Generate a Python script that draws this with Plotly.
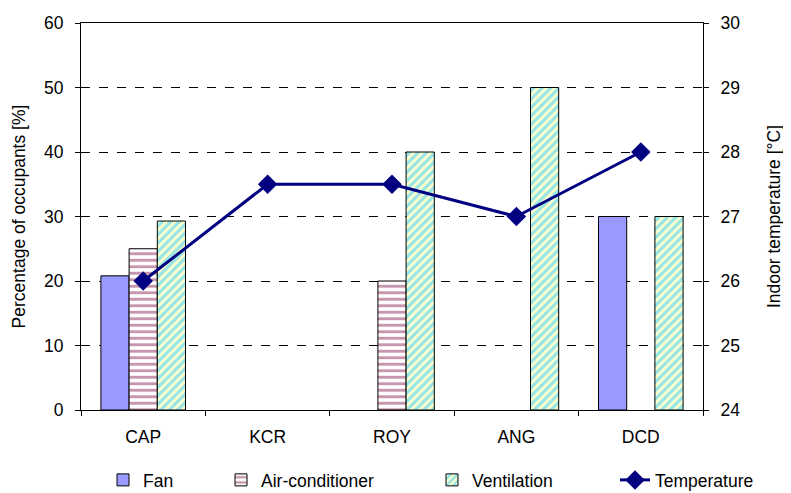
import plotly.graph_objects as go

categories = ["CAP", "KCR", "ROY", "ANG", "DCD"]
fan = [20.8, None, None, None, 30]
air_conditioner = [25, None, 20, None, None]
ventilation = [29.3, None, 40, 50, 30]
temperature = [26, 27.5, 27.5, 27, 28]

font_family = "Liberation Sans, Arial, sans-serif"
FS = 17.5
W, H = 783, 485  # page body has 8px margin

fig = go.Figure()
fig.add_trace(go.Bar(
    x=categories, y=fan, name="Fan", legend="legend",
    marker=dict(color="#9999FF", line=dict(color="black", width=1)),
))
fig.add_trace(go.Bar(
    x=categories, y=air_conditioner, name="Air-conditioner", legend="legend2",
    marker=dict(color="white", line=dict(color="black", width=1),
                pattern=dict(shape="-", fgcolor="#8B2E5C", bgcolor="white",
                             size=6.5, solidity=0.45, fillmode="overlay")),
))
fig.add_trace(go.Bar(
    x=categories, y=ventilation, name="Ventilation", legend="legend3",
    marker=dict(color="#FFFFCC", line=dict(color="black", width=1),
                pattern=dict(shape="/", fgcolor="#33CCFF", bgcolor="#FFFFCC",
                             size=6, solidity=0.55, fillmode="overlay")),
))
fig.add_trace(go.Scatter(
    x=categories, y=temperature, name="Temperature", yaxis="y2", legend="legend4",
    mode="lines+markers",
    line=dict(color="#000080", width=3),
    marker=dict(symbol="diamond", size=15, color="#000080"),
))

def leg(px):
    return dict(orientation="h", xref="container", yref="container",
                x=px / W, xanchor="left", y=1 - 472 / H, yanchor="middle",
                font=dict(size=FS), bgcolor="rgba(0,0,0,0)", borderwidth=0)

fig.update_layout(
    width=W, height=H,
    margin=dict(l=73, r=88, t=15, b=83, autoexpand=False),
    paper_bgcolor="white", plot_bgcolor="white",
    font=dict(family=font_family, size=FS, color="black"),
    barmode="group", bargap=0.32, bargroupgap=0,
    showlegend=True,
    legend=leg(95), legend2=leg(213), legend3=leg(424), legend4=leg(607),
    xaxis=dict(
        type="category", showline=True, linecolor="black", linewidth=1, mirror=True,
        ticks="outside", ticklen=5, tickcolor="black", tickson="boundaries",
        showgrid=False, tickfont=dict(size=FS), automargin=False, ticklabelstandoff=11,
    ),
    yaxis=dict(
        range=[0, 60], dtick=10, showline=True, linecolor="black", linewidth=1,
        ticks="outside", ticklen=5, tickcolor="black",
        showgrid=True, gridcolor="black", gridwidth=1, griddash="dash",
        zeroline=False, automargin=False, ticklabelstandoff=8,
        title=dict(text="Percentage of occupants [%]", font=dict(size=FS), standoff=13),
        tickfont=dict(size=FS),
    ),
    yaxis2=dict(
        range=[24, 30], dtick=1, overlaying="y", side="right",
        showline=True, linecolor="black", linewidth=1, automargin=False,
        ticks="outside", ticklen=5, tickcolor="black", showgrid=False, zeroline=False,
        ticklabelstandoff=8,
        title=dict(text="Indoor temperature [°C]", font=dict(size=FS), standoff=28),
        tickfont=dict(size=FS),
    ),
)

fig.write_html("out.html")
